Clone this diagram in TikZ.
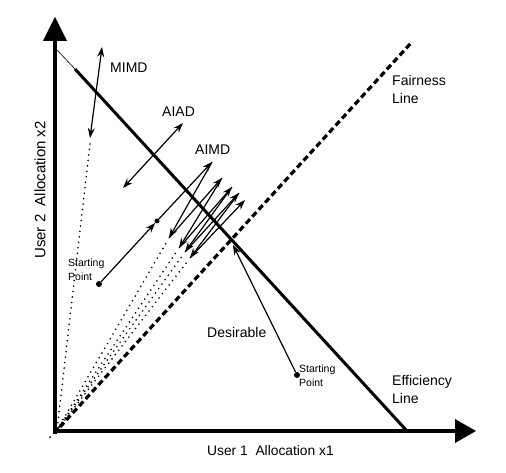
\documentclass[tikz,border=0pt]{standalone}
\usepackage{fontspec}
\setmainfont{Liberation Sans}
\usetikzlibrary{arrows.meta,calc}
\begin{document}
\begin{tikzpicture}[x=1pt,y=-1pt,
  axis/.style={line width=4pt},
  arr/.style={line width=1.2pt,-{Stealth[length=10pt,width=7pt]}},
  darr/.style={line width=1.2pt,{Stealth[length=10pt,width=7pt]}-{Stealth[length=10pt,width=7pt]}},
  dots/.style={line width=1.8pt,dash pattern=on 0pt off 5.5pt,line cap=round},
  lbl/.style={font=\fontsize{14}{18}\selectfont,inner sep=0pt,anchor=west,align=left},
  small/.style={font=\fontsize{10.5}{14}\selectfont,inner sep=0pt,anchor=west,align=left},
  pt/.style={circle,fill=black,inner sep=0pt,minimum size=6pt}]
\useasboundingbox (0,0) rectangle (506,473);
% coordinates
\coordinate (O) at (57,430);
\coordinate (ytop) at (55,40);
\coordinate (xend) at (456,431);
\coordinate (E1) at (57,50);
\coordinate (E2) at (407,431);
\coordinate (F1) at (60,427);
\coordinate (F2) at (411,43);
% axes
\draw[axis] (55,434) -- (ytop);
\fill (43,41) -- (55,17) -- (67,41) -- cycle;
\draw[axis] (53,431) -- (xend);
\fill (455,419) -- (476,431) -- (455,443) -- cycle;
% efficiency line
\draw[line width=0.6pt] (E1) -- (75,69);
\draw[line width=3pt] (75,69) -- (E2);
% fairness line
\draw[line width=3.2pt,dash pattern=on 6pt off 3.5pt] (F1) -- (F2);
% origin dot
\node[circle,fill=black,inner sep=0pt,minimum size=2pt] (od) at (50,437) {};
% MIMD
\coordinate (Mt) at (102,47);
\coordinate (Mb) at (90,138);
\draw[darr] (Mb) -- (Mt);
\draw[dots] (90,144) -- (O);
% AIAD
\coordinate (At) at (183,123);
\coordinate (Ab) at (123,188);
\draw[darr] (Ab) -- (At);
% AIMD
\node[pt] (S) at (99,284) {};
\node[pt,minimum size=5pt] (M) at (157,221) {};
\coordinate (U1) at (212,162);
\coordinate (D1) at (169,238);
\coordinate (U2) at (222,178);
\coordinate (D2) at (179,248);
\coordinate (U3) at (232,187);
\coordinate (D3) at (185,252);
\coordinate (U4) at (239,193);
\coordinate (D4) at (190,258);
\coordinate (U5) at (245,200);
\draw[arr] (S) -- (M);
\draw[arr] (M) -- (U1);
\draw[arr] (U1) -- (D1);
\draw[arr] (D1) -- (U2);
\draw[arr] (U2) -- (D2);
\draw[arr] (D2) -- (U3);
\draw[arr] (U3) -- (D3);
\draw[arr] (D3) -- (U4);
\draw[arr] (U4) -- (D4);
\draw[arr] (D4) -- (U5);
\draw[dots] ($(D1)!0.03!(O)$) -- (O);
\draw[dots] ($(D2)!0.03!(O)$) -- (O);
\draw[dots] ($(D3)!0.03!(O)$) -- (O);
\draw[dots] ($(D4)!0.03!(O)$) -- (O);
% right starting point
\node[pt] (R) at (297,375) {};
\coordinate (Rt) at (233,245);
\draw[arr] (R) -- (Rt);
% labels
\node[lbl] (lMIMD) at (110,68) {MIMD};
\node[lbl] (lAIAD) at (162,112) {AIAD};
\node[lbl] (lAIMD) at (195,150) {AIMD};
\node[lbl] (lF) at (392,89) {Fairness\\Line};
\node[lbl] (lE) at (392,389.5) {Efficiency\\Line};
\node[lbl] (lD) at (207,332) {Desirable};
\node[lbl,font=\fontsize{13.8}{16}\selectfont] (lx) at (207,451) {User 1\ \ Allocation x1};
\node[font=\fontsize{15}{18}\selectfont,inner sep=0pt,rotate=90] (ly) at (40,190) {User 2\ \ Allocation x2};
\node[small] (sL) at (68,270) {Starting\\Point};
\node[small] (sR) at (299,375.5) {Starting\\Point};
\end{tikzpicture}
\end{document}
